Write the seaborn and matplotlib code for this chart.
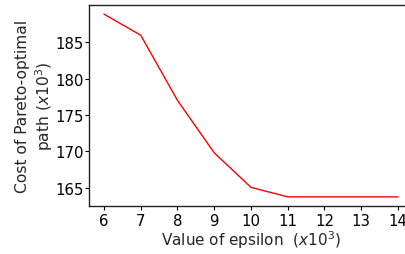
import matplotlib
matplotlib.use("Agg")
import matplotlib.pyplot as plt
import seaborn as sns
import pandas as pd

epsilon = [6, 7, 8, 9, 10, 11, 12, 13, 14]
cost = [188.85, 185.95, 177.0, 169.8, 165.05, 163.75, 163.75, 163.75, 163.75]

sns.set_style("ticks")
plt.rcParams['font.family'] = ['DejaVu Sans']

df = pd.DataFrame({"epsilon": epsilon, "cost": cost})

fig = plt.figure(figsize=(4.05, 2.55), dpi=100)
ax = fig.add_axes([89.3 / 405, 48 / 255, (412.7 - 89.3) / 405, (207 - 6) / 255])
sns.lineplot(data=df, x="epsilon", y="cost", color="red", linewidth=1.0, ax=ax)
ax.set_xticks(epsilon)
ax.set_yticks([165, 170, 175, 180, 185])
ax.tick_params(labelsize=10.7, colors="black", length=2.9, width=0.8)
ax.tick_params(axis="x", pad=2.4)
ax.tick_params(axis="y", pad=1.4)
ax.set_xlabel("Value of epsilon  ($x10^3$)", fontsize=11)
ax.set_ylabel("Cost of Pareto-optimal\npath ($x10^3$)", fontsize=11.2)
ax.xaxis.set_label_coords(0.5, -0.11)
ax.yaxis.set_label_coords(-0.106, 0.5)
for s in ax.spines.values():
    s.set_color("#222222")
    s.set_linewidth(1.0)
fig.savefig("out.png", dpi=100)
